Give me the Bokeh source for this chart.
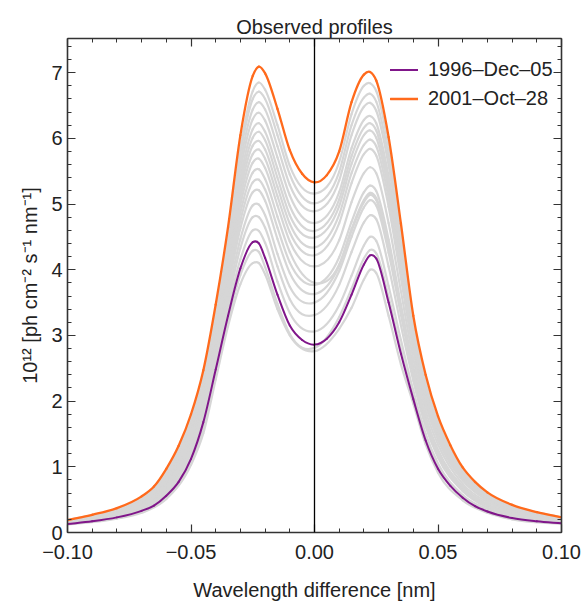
from bokeh.plotting import figure
from bokeh.models import (LinearAxis, FixedTicker, CustomJSTickFormatter, Span,
                          Legend, LegendItem, Range1d)
from bokeh.embed import file_html
from bokeh.resources import INLINE

# ---------------- data ----------------
X_FINE = [-0.100, -0.090, -0.080, -0.070, -0.065, -0.060, -0.055, -0.050, -0.045,
          -0.040, -0.035, -0.030, -0.025, -0.0225, -0.020, -0.015, -0.010, -0.005,
          0.000, 0.005, 0.010, 0.015, 0.020, 0.0225, 0.025, 0.030, 0.035, 0.040,
          0.045, 0.050, 0.055, 0.060, 0.065, 0.070, 0.080, 0.090, 0.100]

PURPLE_1996 = [0.13, 0.17, 0.23, 0.33, 0.41, 0.56, 0.77, 1.12, 1.68, 2.48, 3.30, 4.02,
               4.42, 4.40, 4.18, 3.62, 3.15, 2.93, 2.86, 2.95, 3.20, 3.62, 4.08, 4.22,
               4.17, 3.50, 2.72, 2.03, 1.40, 0.97, 0.71, 0.53, 0.40, 0.32, 0.22, 0.17, 0.14]

ORANGE_2001 = [0.19, 0.27, 0.37, 0.55, 0.70, 0.97, 1.32, 1.80, 2.47, 3.47, 4.65, 6.05,
               6.95, 7.09, 6.99, 6.45, 5.82, 5.46, 5.33, 5.44, 5.80, 6.55, 6.97, 7.01,
               6.88, 6.02, 4.70, 3.30, 2.40, 1.77, 1.33, 0.99, 0.77, 0.61, 0.42, 0.31, 0.23]

X_GRAY = [-0.100, -0.080, -0.070, -0.060, -0.050, -0.045, -0.040, -0.035, -0.030,
          -0.025, -0.0225, -0.020, -0.015, -0.010, 0.000, 0.010, 0.015, 0.020, 0.0225,
          0.025, 0.030, 0.035, 0.040, 0.045, 0.050, 0.060, 0.070, 0.080, 0.100]

GRAY_PROFILES = [
    [0.12, 0.21, 0.30, 0.51, 1.03, 1.51, 2.33, 3.14, 3.78, 4.10, 4.10, 3.93, 3.40, 3.00, 2.76, 3.10, 3.42, 3.85, 4.00, 3.95, 3.30, 2.56, 1.96, 1.34, 0.91, 0.49, 0.30, 0.20, 0.13],
    [0.13, 0.22, 0.32, 0.54, 1.07, 1.59, 2.42, 3.23, 3.92, 4.29, 4.27, 4.04, 3.48, 3.02, 2.81, 3.28, 3.71, 4.17, 4.30, 4.25, 3.58, 2.78, 2.07, 1.43, 0.99, 0.54, 0.33, 0.23, 0.14],
    [0.13, 0.24, 0.35, 0.59, 1.16, 1.73, 2.55, 3.40, 4.16, 4.60, 4.59, 4.41, 3.82, 3.34, 3.06, 3.46, 3.91, 4.37, 4.50, 4.44, 3.75, 2.93, 2.16, 1.50, 1.05, 0.57, 0.35, 0.24, 0.15],
    [0.14, 0.25, 0.36, 0.62, 1.22, 1.79, 2.63, 3.50, 4.33, 4.80, 4.80, 4.64, 4.05, 3.55, 3.31, 3.77, 4.27, 4.72, 4.83, 4.77, 4.05, 3.15, 2.31, 1.61, 1.14, 0.63, 0.38, 0.26, 0.16],
    [0.14, 0.26, 0.38, 0.65, 1.27, 1.85, 2.70, 3.60, 4.47, 4.98, 4.99, 4.83, 4.24, 3.74, 3.50, 3.98, 4.50, 4.95, 5.06, 4.98, 4.26, 3.31, 2.41, 1.68, 1.20, 0.66, 0.41, 0.28, 0.17],
    [0.15, 0.27, 0.40, 0.68, 1.32, 1.91, 2.78, 3.71, 4.63, 5.18, 5.21, 5.05, 4.47, 3.95, 3.63, 4.06, 4.59, 5.03, 5.14, 5.06, 4.33, 3.37, 2.45, 1.71, 1.22, 0.68, 0.42, 0.29, 0.17],
    [0.15, 0.28, 0.41, 0.70, 1.37, 1.96, 2.84, 3.79, 4.75, 5.33, 5.37, 5.22, 4.64, 4.11, 3.77, 4.19, 4.73, 5.18, 5.28, 5.20, 4.46, 3.47, 2.52, 1.76, 1.26, 0.70, 0.43, 0.30, 0.17],
    [0.16, 0.29, 0.42, 0.73, 1.41, 2.01, 2.90, 3.87, 4.87, 5.48, 5.53, 5.38, 4.81, 4.27, 3.80, 4.08, 4.62, 5.06, 5.17, 5.09, 4.36, 3.39, 2.47, 1.73, 1.23, 0.68, 0.42, 0.29, 0.17],
    [0.16, 0.30, 0.44, 0.75, 1.45, 2.06, 2.95, 3.95, 4.99, 5.63, 5.69, 5.55, 4.98, 4.43, 4.05, 4.45, 5.03, 5.47, 5.56, 5.47, 4.71, 3.67, 2.64, 1.85, 1.34, 0.74, 0.46, 0.32, 0.18],
    [0.16, 0.30, 0.45, 0.77, 1.49, 2.10, 3.00, 4.02, 5.10, 5.76, 5.83, 5.69, 5.12, 4.57, 4.22, 4.71, 5.32, 5.76, 5.84, 5.74, 4.96, 3.87, 2.77, 1.94, 1.41, 0.79, 0.49, 0.34, 0.19],
    [0.17, 0.31, 0.46, 0.79, 1.52, 2.14, 3.05, 4.08, 5.20, 5.89, 5.96, 5.83, 5.26, 4.70, 4.34, 4.84, 5.47, 5.90, 5.98, 5.88, 5.09, 3.97, 2.83, 1.99, 1.45, 0.81, 0.50, 0.35, 0.20],
    [0.17, 0.32, 0.47, 0.81, 1.56, 2.18, 3.10, 4.15, 5.30, 6.01, 6.10, 5.97, 5.40, 4.83, 4.49, 4.97, 5.61, 6.05, 6.12, 6.01, 5.21, 4.07, 2.90, 2.04, 1.49, 0.83, 0.52, 0.36, 0.20],
    [0.17, 0.33, 0.48, 0.83, 1.59, 2.22, 3.15, 4.22, 5.40, 6.14, 6.23, 6.10, 5.54, 4.97, 4.59, 5.07, 5.73, 6.16, 6.23, 6.12, 5.31, 4.15, 2.95, 2.07, 1.52, 0.85, 0.53, 0.36, 0.21],
    [0.17, 0.33, 0.49, 0.86, 1.63, 2.27, 3.21, 4.30, 5.52, 6.29, 6.39, 6.27, 5.71, 5.13, 4.71, 5.18, 5.85, 6.28, 6.34, 6.23, 5.42, 4.24, 3.01, 2.12, 1.55, 0.86, 0.54, 0.37, 0.21],
    [0.18, 0.34, 0.51, 0.88, 1.67, 2.32, 3.27, 4.38, 5.64, 6.44, 6.55, 6.44, 5.88, 5.29, 4.89, 5.36, 6.05, 6.48, 6.54, 6.42, 5.59, 4.36, 3.09, 2.18, 1.60, 0.90, 0.56, 0.39, 0.22],
    [0.18, 0.35, 0.52, 0.90, 1.71, 2.37, 3.33, 4.46, 5.77, 6.60, 6.71, 6.60, 6.05, 5.45, 5.01, 5.49, 6.20, 6.62, 6.68, 6.56, 5.72, 4.46, 3.16, 2.23, 1.64, 0.92, 0.58, 0.40, 0.22],
    [0.19, 0.36, 0.53, 0.92, 1.75, 2.41, 3.38, 4.53, 5.87, 6.72, 6.85, 6.74, 6.20, 5.58, 5.16, 5.64, 6.37, 6.80, 6.84, 6.72, 5.87, 4.57, 3.22, 2.30, 1.69, 0.94, 0.59, 0.41, 0.23],
]

X_TICKS = [-0.10, -0.05, 0.0, 0.05, 0.10]
Y_TICKS = [0, 1, 2, 3, 4, 5, 6, 7]
LABELS = ["1996\u2013Dec\u201305", "2001\u2013Oct\u201328"]
TITLE = "Observed profiles"
X_LABEL = "Wavelength difference [nm]"
Y_LABEL = "10\u00b9\u00b2 [ph cm\u207b\u00b2 s\u207b\u00b9 nm\u207b\u00b9]"

# ---------------- styling ----------------
FONT = "Liberation Sans"
TXT = "#222222"
FRAME = "#333333"
X_MINOR = [round(-0.10 + 0.01 * i, 3) for i in range(21)]
Y_MINOR = [round(0.2 * i, 1) for i in range(38)]


def smooth_segments(xs, ys):
    """Cubic Bezier segments passing through every data point (Hermite tangents),
    so that Bokeh's bezier glyph draws a smooth curve through the read values."""
    n = len(xs)
    m = []
    for i in range(n):
        if i == 0:
            m.append((ys[1] - ys[0]) / (xs[1] - xs[0]))
        elif i == n - 1:
            m.append((ys[-1] - ys[-2]) / (xs[-1] - xs[-2]))
        else:
            h0 = xs[i] - xs[i - 1]
            h1 = xs[i + 1] - xs[i]
            d0 = (ys[i] - ys[i - 1]) / h0
            d1 = (ys[i + 1] - ys[i]) / h1
            m.append((d0 * h1 + d1 * h0) / (h0 + h1))
    seg = dict(x0=[], y0=[], x1=[], y1=[], cx0=[], cy0=[], cx1=[], cy1=[])
    for i in range(n - 1):
        h = xs[i + 1] - xs[i]
        seg["x0"].append(xs[i]); seg["y0"].append(ys[i])
        seg["x1"].append(xs[i + 1]); seg["y1"].append(ys[i + 1])
        seg["cx0"].append(xs[i] + h / 3); seg["cy0"].append(ys[i] + m[i] * h / 3)
        seg["cx1"].append(xs[i + 1] - h / 3); seg["cy1"].append(ys[i + 1] - m[i + 1] * h / 3)
    return seg


p = figure(width=586, height=603, output_backend="svg", toolbar_location=None,
           x_range=Range1d(-0.1, 0.1), y_range=Range1d(0, 7.52),
           min_border_left=67, min_border_right=25, min_border_top=38,
           min_border_bottom=71)
p.outline_line_color = None
p.grid.visible = False
p.background_fill_color = "white"

p.title.text = TITLE
p.title.align = "center"
p.title.text_font = FONT
p.title.text_font_size = "20px"
p.title.text_font_style = "normal"
p.title.text_color = TXT
p.title.standoff = 2


def style_axis(ax, show_labels=True):
    ax.major_tick_in = 8
    ax.major_tick_out = 0
    ax.minor_tick_in = 4
    ax.minor_tick_out = 0
    ax.axis_line_color = FRAME
    ax.axis_line_width = 1.6
    ax.major_tick_line_color = FRAME
    ax.minor_tick_line_color = FRAME
    ax.major_tick_line_width = 1.2
    ax.minor_tick_line_width = 1.0
    ax.major_label_text_font = FONT
    ax.major_label_text_color = TXT
    ax.axis_label_text_font = FONT
    ax.axis_label_text_font_style = "normal"
    ax.axis_label_text_color = TXT
    ax.axis_label_text_font_size = "20px"
    if show_labels:
        ax.major_label_text_font_size = "20px"
    else:
        ax.major_label_text_font_size = "0px"
        ax.formatter = CustomJSTickFormatter(code="return '';")


xa = p.xaxis[0]
xa.ticker = FixedTicker(ticks=X_TICKS, minor_ticks=X_MINOR)
xa.formatter = CustomJSTickFormatter(code="return tick.toFixed(2).replace('-', '\u2212');")
style_axis(xa)
xa.major_label_standoff = 12
xa.axis_label = X_LABEL
xa.axis_label_standoff = 17

ya = p.yaxis[0]
ya.ticker = FixedTicker(ticks=Y_TICKS, minor_ticks=Y_MINOR)
style_axis(ya)
ya.major_label_standoff = 5
ya.axis_label = Y_LABEL
ya.axis_label_standoff = 7

top = LinearAxis(ticker=FixedTicker(ticks=X_TICKS, minor_ticks=X_MINOR))
style_axis(top, show_labels=False)
p.add_layout(top, "above")
right = LinearAxis(ticker=FixedTicker(ticks=Y_TICKS, minor_ticks=Y_MINOR))
style_axis(right, show_labels=False)
p.add_layout(right, "right")

# ---------------- glyphs ----------------
gseg = dict(x0=[], y0=[], x1=[], y1=[], cx0=[], cy0=[], cx1=[], cy1=[])
for prof in GRAY_PROFILES:
    s = smooth_segments(X_GRAY, prof)
    for k in gseg:
        gseg[k].extend(s[k])
p.bezier(source=gseg, x0="x0", y0="y0", x1="x1", y1="y1", cx0="cx0", cy0="cy0",
         cx1="cx1", cy1="cy1", line_color="#d6d6d6", line_width=2.2, line_cap="round")

r_purple = p.bezier(source=smooth_segments(X_FINE, PURPLE_1996), x0="x0", y0="y0",
                    x1="x1", y1="y1", cx0="cx0", cy0="cy0", cx1="cx1", cy1="cy1",
                    line_color="#80168a", line_width=2.0, line_cap="round")
r_orange = p.bezier(source=smooth_segments(X_FINE, ORANGE_2001), x0="x0", y0="y0",
                    x1="x1", y1="y1", cx0="cx0", cy0="cy0", cx1="cx1", cy1="cy1",
                    line_color="#ff6a1c", line_width=2.3, line_cap="round")

p.add_layout(Span(location=0, dimension="height", line_color="black", line_width=1.3))

legend = Legend(items=[LegendItem(label=LABELS[0], renderers=[r_purple], index=0),
                       LegendItem(label=LABELS[1], renderers=[r_orange], index=0)],
                location=(323, 422), border_line_color=None,
                background_fill_alpha=0, padding=0, margin=0, spacing=6,
                glyph_width=28, glyph_height=21, label_height=21,
                label_standoff=10, label_text_font=FONT,
                label_text_font_size="20px", label_text_color=TXT)
p.add_layout(legend)

open("out.html", "w").write(file_html(p, INLINE))
